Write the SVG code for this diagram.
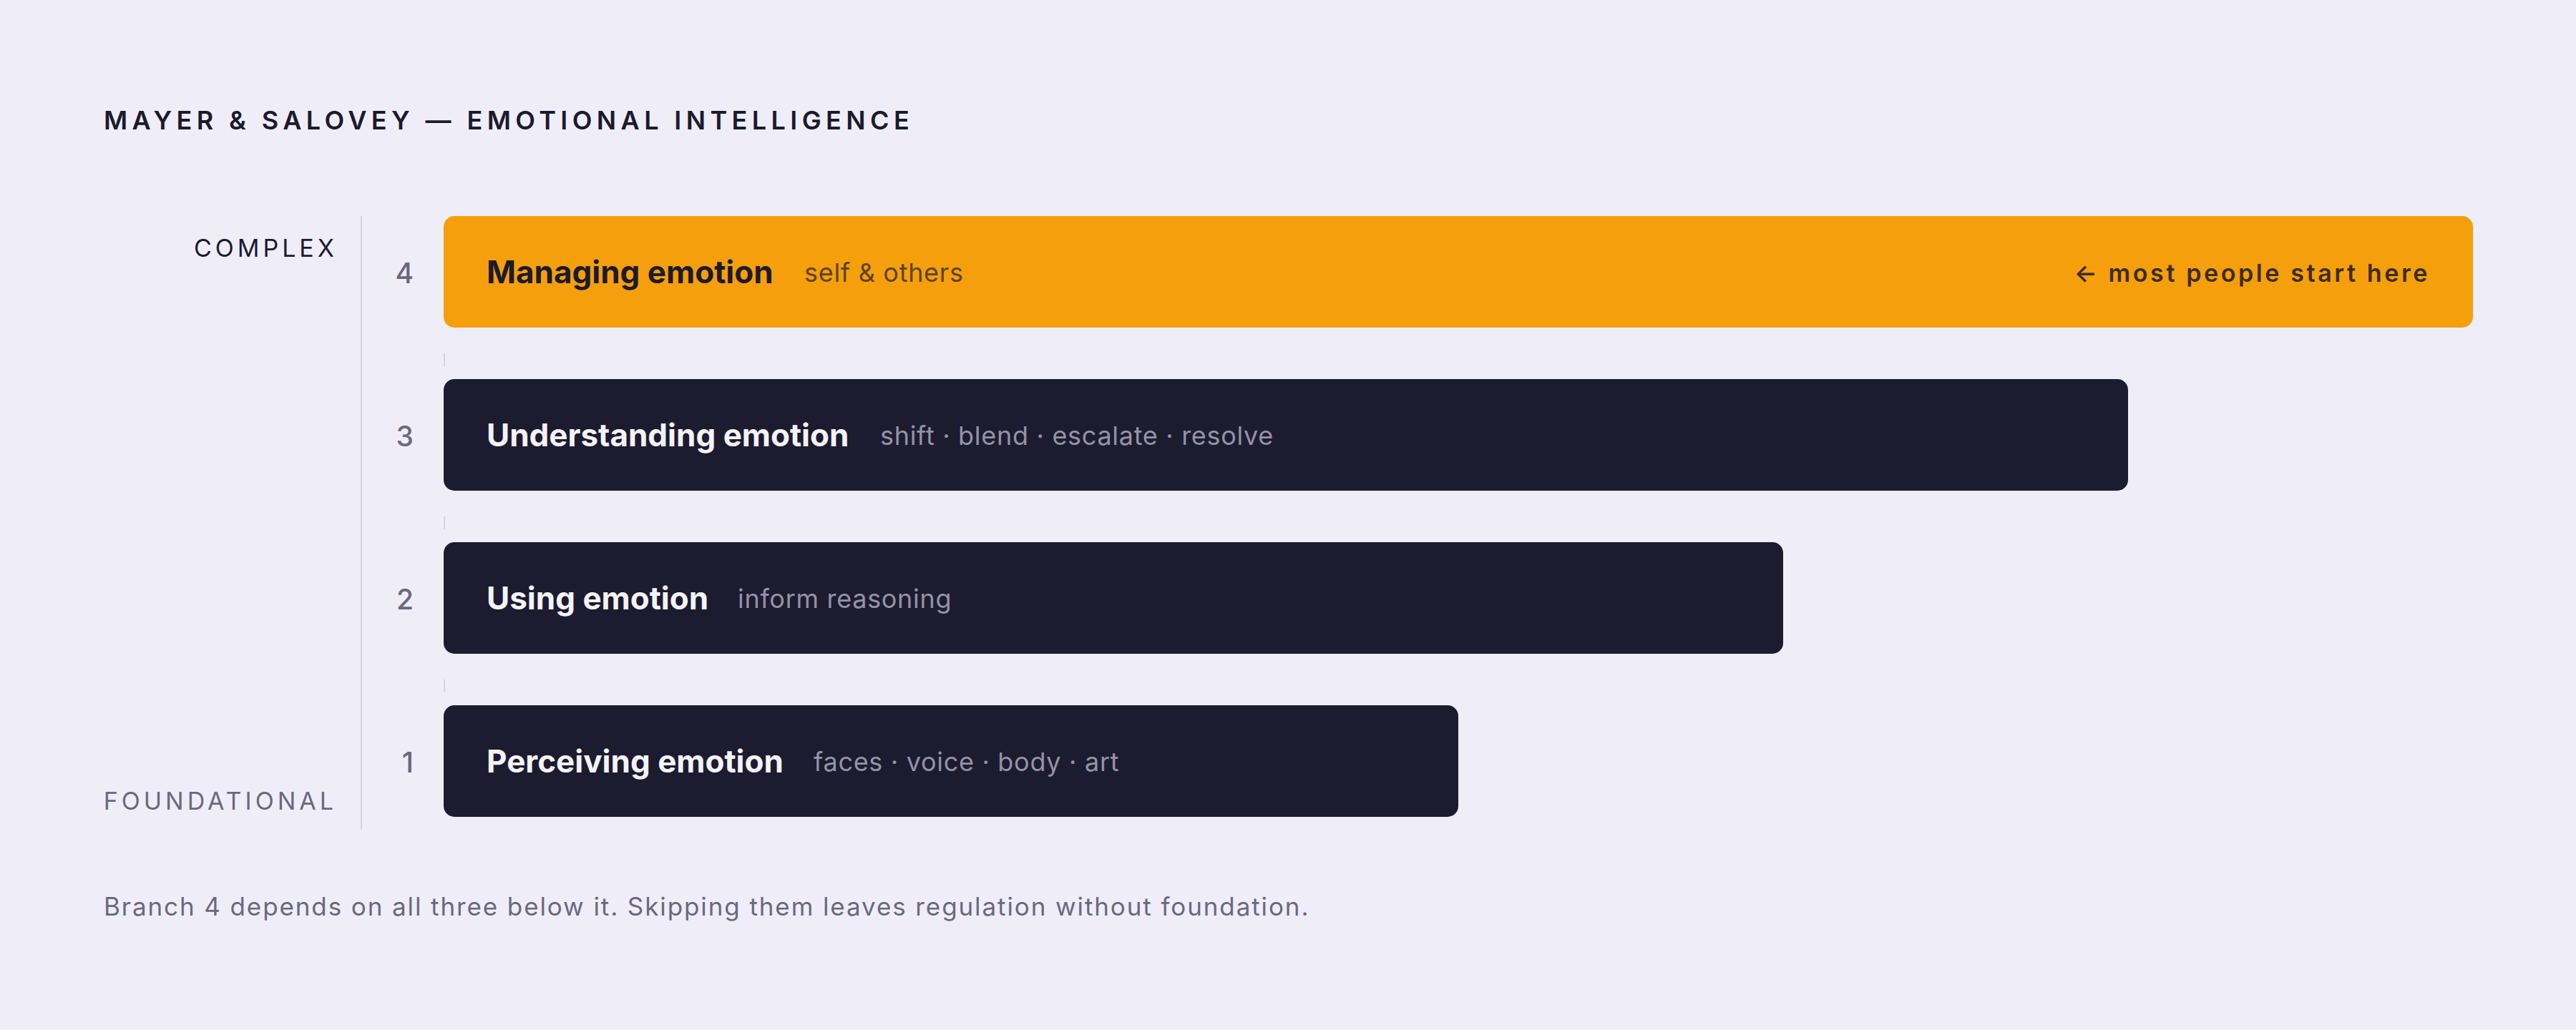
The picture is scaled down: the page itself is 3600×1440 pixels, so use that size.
<svg xmlns="http://www.w3.org/2000/svg" width="3600" height="1440" viewBox="0 0 3600 1440">
  <style>
    text { font-family: Inter, "Liberation Sans", sans-serif; }
    .title { font-size: 36px; font-weight: 600; letter-spacing: 6.4px; fill: #1c1a2e; }
    .axislbl { font-size: 34px; font-weight: 400; letter-spacing: 5px; }
    .num { font-size: 39px; font-weight: 500; fill: #6b6880; text-anchor: end; }
    .btitle { font-size: 44px; font-weight: 700; }
    .bsub { font-size: 36px; font-weight: 400; letter-spacing: 0.7px; }
    .dark .bar { fill: #1d1b2f; }
    .dark .btitle { fill: #f4f3fa; }
    .dark .bsub { fill: #9592a8; }
    .hl .bar { fill: #f59f0c; }
    .hl .btitle { fill: #1c1a2e; }
    .hl .bsub { fill: #5d4323; }
    .note { font-size: 34px; font-weight: 600; letter-spacing: 3.6px; fill: #3d2c1c; text-anchor: end; }
    .foot { font-size: 35px; font-weight: 400; letter-spacing: 1.9px; fill: #6b6880; }
    .guide { stroke: #d5d3e1; stroke-width: 2; fill: none; }
  </style>
  <rect x="0" y="0" width="3600" height="1440" fill="#efeef8"/>

  <text class="title" x="145" y="181">MAYER &amp; SALOVEY — EMOTIONAL INTELLIGENCE</text>

  <g id="axis">
    <line class="guide" x1="505" y1="302" x2="505" y2="1160"/>
    <text class="axislbl" x="472" y="359" text-anchor="end" fill="#1c1a2e">COMPLEX</text>
    <text class="axislbl" x="471" y="1132" text-anchor="end" fill="#6b6880">FOUNDATIONAL</text>
  </g>

  <g id="connectors">
    <line class="guide" x1="621" y1="494" x2="621" y2="512"/>
    <line class="guide" x1="621" y1="722" x2="621" y2="740"/>
    <line class="guide" x1="621" y1="950" x2="621" y2="968"/>
  </g>

  <g id="branch4" class="hl">
    <text class="num" x="578" y="396">4</text>
    <rect class="bar" x="620" y="302" width="2836" height="156" rx="15"/>
    <text class="btitle" x="680" y="396">Managing emotion</text>
    <text class="bsub" x="1124" y="394">self &amp; others</text>
    <text class="note" x="3396" y="394">← most people start here</text>
  </g>

  <g id="branch3" class="dark">
    <text class="num" x="578" y="624">3</text>
    <rect class="bar" x="620" y="530" width="2354" height="156" rx="15"/>
    <text class="btitle" x="680" y="624">Understanding emotion</text>
    <text class="bsub" x="1230" y="622">shift · blend · escalate · resolve</text>
  </g>

  <g id="branch2" class="dark">
    <text class="num" x="578" y="852">2</text>
    <rect class="bar" x="620" y="758" width="1872" height="156" rx="15"/>
    <text class="btitle" x="680" y="852">Using emotion</text>
    <text class="bsub" x="1031" y="850">inform reasoning</text>
  </g>

  <g id="branch1" class="dark">
    <text class="num" x="578" y="1080">1</text>
    <rect class="bar" x="620" y="986" width="1418" height="156" rx="15"/>
    <text class="btitle" x="680" y="1080">Perceiving emotion</text>
    <text class="bsub" x="1137" y="1078">faces · voice · body · art</text>
  </g>

  <text class="foot" x="145" y="1280">Branch 4 depends on all three below it. Skipping them leaves regulation without foundation.</text>
</svg>
